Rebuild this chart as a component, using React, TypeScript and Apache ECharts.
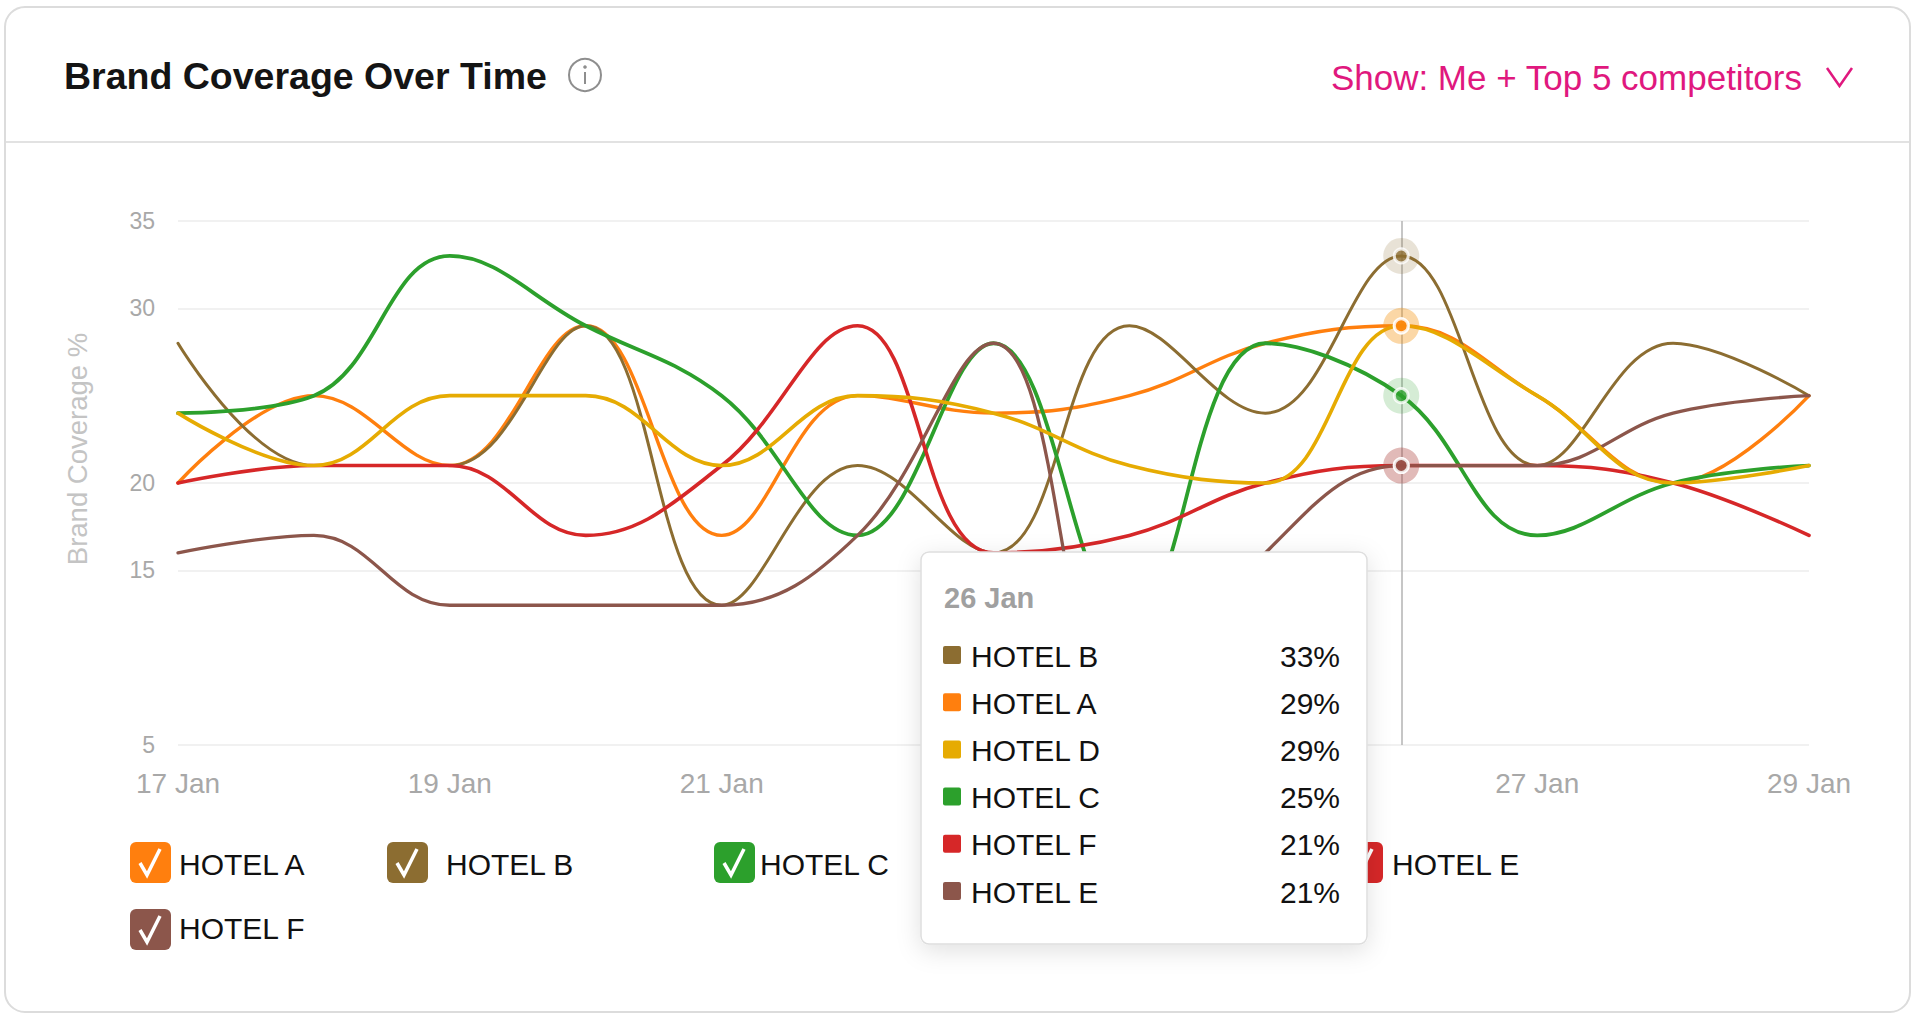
import React, { useEffect, useRef } from 'react';
import * as echarts from 'echarts';

// ---------- data ----------
const DAYS = ['17 Jan', '18 Jan', '19 Jan', '20 Jan', '21 Jan', '22 Jan', '23 Jan', '24 Jan', '25 Jan', '26 Jan', '27 Jan', '28 Jan', '29 Jan'];
const HOTEL_A = [20, 25, 21, 29, 17, 25, 24, 25, 28, 29, 25, 20, 25];
const HOTEL_B = [28, 21, 21, 29, 13, 21, 16, 29, 24, 33, 21, 28, 25];
const HOTEL_C = [24, 25, 33, 29, 25, 17, 28, 12, 28, 25, 17, 20, 21];
const HOTEL_D = [24, 21, 25, 25, 21, 25, 24, 21, 20, 29, 25, 20, 21];
const HOTEL_E = [16, 17, 13, 13, 13, 17, 28, 6, 16, 21, 21, 24, 25];
const HOTEL_F = [20, 21, 21, 17, 21, 29, 16, 17, 20, 21, 21, 20, 17];
const Y_TICKS = [5, 15, 20, 30, 35];
const HIGHLIGHT_DAY = '26 Jan';
// x labels that sit underneath the open tooltip card (not visible in the reference)
const COVERED_LABELS = ['23 Jan', '25 Jan'];
const TOOLTIP_ORDER = ['HOTEL B', 'HOTEL A', 'HOTEL D', 'HOTEL C', 'HOTEL F', 'HOTEL E'];
const DOT_ORDER = ['HOTEL D', 'HOTEL A', 'HOTEL B', 'HOTEL C', 'HOTEL F', 'HOTEL E'];
const LEGEND_NAMES = ['HOTEL A', 'HOTEL B', 'HOTEL C', 'HOTEL D', 'HOTEL E', 'HOTEL F'];
const TITLE = 'Brand Coverage Over Time';
const SHOW_TEXT = 'Show: Me + Top 5 competitors';
const Y_NAME = 'Brand Coverage %';

// ---------- styles ----------
const FONT = '"Liberation Sans", Arial, Helvetica, sans-serif';
const SERIES_STYLE: Record<string, { color: string; width: number }> = {
  'HOTEL A': { color: '#ff7f0e', width: 3.4 },
  'HOTEL B': { color: '#8c6d31', width: 3 },
  'HOTEL C': { color: '#2ca02c', width: 3.8 },
  'HOTEL D': { color: '#e6ab02', width: 3.6 },
  'HOTEL E': { color: '#8c564b', width: 3.3 },
  'HOTEL F': { color: '#d62728', width: 3.6 },
};
const LEGEND_COLORS: Record<string, string> = {
  'HOTEL A': '#ff7f0e',
  'HOTEL B': '#8c6d31',
  'HOTEL C': '#2ca02c',
  'HOTEL D': '#e6ab02',
  'HOTEL E': '#d62728',
  'HOTEL F': '#8c564b',
};
const LEGEND_LAYOUT: Record<string, { bx: number; by: number; tx: number; ty: number }> = {
  'HOTEL A': { bx: 130, by: 842, tx: 179, ty: 864 },
  'HOTEL B': { bx: 387, by: 842, tx: 446, ty: 864 },
  'HOTEL C': { bx: 714, by: 842, tx: 760, ty: 864 },
  'HOTEL D': { bx: 1030, by: 842, tx: 1080, ty: 864 },
  'HOTEL E': { bx: 1342, by: 842, tx: 1392, ty: 864 },
  'HOTEL F': { bx: 130, by: 909, tx: 179, ty: 928 },
};

const DATA: Record<string, number[]> = {
  'HOTEL A': HOTEL_A,
  'HOTEL B': HOTEL_B,
  'HOTEL C': HOTEL_C,
  'HOTEL D': HOTEL_D,
  'HOTEL E': HOTEL_E,
  'HOTEL F': HOTEL_F,
};
// drawing order (bottom -> top)
const DRAW_ORDER = ['HOTEL A', 'HOTEL B', 'HOTEL C', 'HOTEL F', 'HOTEL E', 'HOTEL D'];

function buildOption(): any {
  const hi = DAYS.indexOf(HIGHLIGHT_DAY);

  const lineSeries = DRAW_ORDER.map((name) => ({
    name,
    type: 'line',
    data: DATA[name],
    smooth: 0.4,
    showSymbol: false,
    symbol: 'none',
    silent: true,
    z: 2,
    lineStyle: { color: SERIES_STYLE[name].color, width: SERIES_STYLE[name].width, cap: 'round', join: 'round' },
    itemStyle: { color: SERIES_STYLE[name].color },
  }));

  const helper = {
    type: 'line',
    data: [],
    silent: true,
    z: 1,
    markLine: {
      silent: true,
      z: 1,
      symbol: ['none', 'none'],
      label: { show: false },
      data: [
        ...Y_TICKS.map((v) => ({ yAxis: v, lineStyle: { color: '#ececec', width: 1.5, type: 'solid' } })),
        { xAxis: HIGHLIGHT_DAY, lineStyle: { color: '#b3b3b3', width: 1.5, type: 'solid' } },
      ],
    },
  };

  const halos = {
    type: 'scatter',
    silent: true,
    z: 3,
    symbolSize: 36,
    data: DOT_ORDER.map((name) => ({
      value: [HIGHLIGHT_DAY, DATA[name][hi]],
      itemStyle: { color: SERIES_STYLE[name].color, opacity: 0.2 },
    })),
  };
  const dots = {
    type: 'scatter',
    silent: true,
    z: 4,
    symbolSize: 14,
    data: DOT_ORDER.map((name) => ({
      value: [HIGHLIGHT_DAY, DATA[name][hi]],
      itemStyle: { color: SERIES_STYLE[name].color, borderColor: '#ffffff', borderWidth: 3 },
    })),
  };

  const graphics: any[] = [];
  // card
  graphics.push({
    type: 'rect', z: 0, silent: true,
    shape: { x: 5, y: 7, width: 1905, height: 1005, r: 20 },
    style: { fill: 'none', stroke: '#dcdcdc', lineWidth: 2 },
  });
  graphics.push({
    type: 'line', z: 0, silent: true,
    shape: { x1: 6, y1: 142, x2: 1909, y2: 142 },
    style: { stroke: '#e2e2e2', lineWidth: 2 },
  });
  // header
  graphics.push({
    type: 'text', x: 64, y: 76, z: 10,
    style: { text: TITLE, fontSize: 37.5, fontWeight: 'bold', fill: '#141414', verticalAlign: 'middle', fontFamily: FONT },
  });
  graphics.push({
    type: 'circle', z: 10, shape: { cx: 585, cy: 75, r: 16 },
    style: { fill: 'none', stroke: '#8e8e8e', lineWidth: 2 },
  });
  graphics.push({
    type: 'circle', z: 10, shape: { cx: 585, cy: 67, r: 1.8 },
    style: { fill: '#8e8e8e' },
  });
  graphics.push({
    type: 'line', z: 10, shape: { x1: 585, y1: 72, x2: 585, y2: 84 },
    style: { stroke: '#8e8e8e', lineWidth: 2 },
  });
  graphics.push({
    type: 'text', x: 1802, y: 77, z: 10,
    style: { text: SHOW_TEXT, fontSize: 35, fill: '#e0187e', align: 'right', verticalAlign: 'middle', fontFamily: FONT },
  });
  graphics.push({
    type: 'polyline', z: 10,
    shape: { points: [[1827, 68], [1839.5, 86], [1852, 68]] },
    style: { stroke: '#e0187e', lineWidth: 2.5, fill: 'none' },
  });
  // y axis name
  graphics.push({
    type: 'text', x: 77, y: 449, rotation: Math.PI / 2, z: 10,
    style: { text: Y_NAME, fontSize: 27.5, fill: '#c4c4c4', align: 'center', verticalAlign: 'middle', fontFamily: FONT },
  });
  // legend
  LEGEND_NAMES.forEach((name) => {
    const L = LEGEND_LAYOUT[name];
    graphics.push({
      type: 'rect', z: 10,
      shape: { x: L.bx, y: L.by, width: 41, height: 41, r: 6 },
      style: { fill: LEGEND_COLORS[name] },
    });
    graphics.push({
      type: 'polyline', z: 11,
      shape: { points: [[L.bx + 10, L.by + 21], [L.bx + 17, L.by + 33], [L.bx + 30, L.by + 7]] },
      style: { stroke: '#ffffff', lineWidth: 3.5, fill: 'none' },
    });
    graphics.push({
      type: 'text', x: L.tx, y: L.ty, z: 11,
      style: { text: name, fontSize: 30, fill: '#111111', verticalAlign: 'middle', fontFamily: FONT },
    });
  });
  // tooltip
  graphics.push({
    type: 'rect', z: 50,
    shape: { x: 921, y: 552, width: 446, height: 392, r: 8 },
    style: {
      fill: '#ffffff', stroke: '#dedede', lineWidth: 1.5,
      shadowBlur: 24, shadowColor: 'rgba(0,0,0,0.12)', shadowOffsetY: 6,
    },
  });
  graphics.push({
    type: 'text', x: 944, y: 598, z: 51,
    style: { text: HIGHLIGHT_DAY, fontSize: 29, fontWeight: 'bold', fill: '#a0a0a0', verticalAlign: 'middle', fontFamily: FONT },
  });
  TOOLTIP_ORDER.forEach((name, i) => {
    const cy = 655 + 47.2 * i;
    graphics.push({
      type: 'rect', z: 51,
      shape: { x: 943, y: cy - 9, width: 18, height: 18, r: 2 },
      style: { fill: SERIES_STYLE[name].color },
    });
    graphics.push({
      type: 'text', x: 971, y: cy + 1, z: 51,
      style: { text: name, fontSize: 30, fill: '#111111', verticalAlign: 'middle', fontFamily: FONT },
    });
    graphics.push({
      type: 'text', x: 1340, y: cy + 1, z: 51,
      style: { text: `${DATA[name][hi]}%`, fontSize: 30, fill: '#111111', align: 'right', verticalAlign: 'middle', fontFamily: FONT },
    });
  });

  return {
    animation: false,
    backgroundColor: '#ffffff',
    textStyle: { fontFamily: FONT },
    grid: { left: 178, right: 111, top: 221, bottom: 272, containLabel: false },
    xAxis: {
      type: 'category',
      data: DAYS,
      boundaryGap: false,
      axisLine: { show: false },
      axisTick: { show: false },
      splitLine: { show: false },
      axisLabel: {
        interval: 1, color: '#a8a8a8', fontSize: 28, margin: 24, fontFamily: FONT,
        formatter: (v: string) => (COVERED_LABELS.indexOf(v) >= 0 ? '' : v),
      },
    },
    yAxis: {
      type: 'value',
      min: 5,
      max: 35,
      interval: 5,
      axisLine: { show: false },
      axisTick: { show: false },
      splitLine: { show: false },
      axisLabel: {
        color: '#a8a8a8', fontSize: 23, margin: 23, fontFamily: FONT,
        formatter: (v: number) => (Y_TICKS.indexOf(v) >= 0 ? String(v) : ''),
      },
    },
    series: [helper, ...lineSeries, halos, dots],
    graphic: { elements: graphics },
  };
}

export default function App() {
  const ref = useRef<HTMLDivElement>(null);
  useEffect(() => {
    if (!ref.current) return;
    const chart = echarts.init(ref.current, null, { renderer: 'svg' });
    chart.setOption(buildOption());
    return () => chart.dispose();
  }, []);
  return (
    <div
      ref={ref}
      style={{ position: 'fixed', left: 0, top: 0, width: 1920, height: 1017, background: '#ffffff' }}
    />
  );
}
